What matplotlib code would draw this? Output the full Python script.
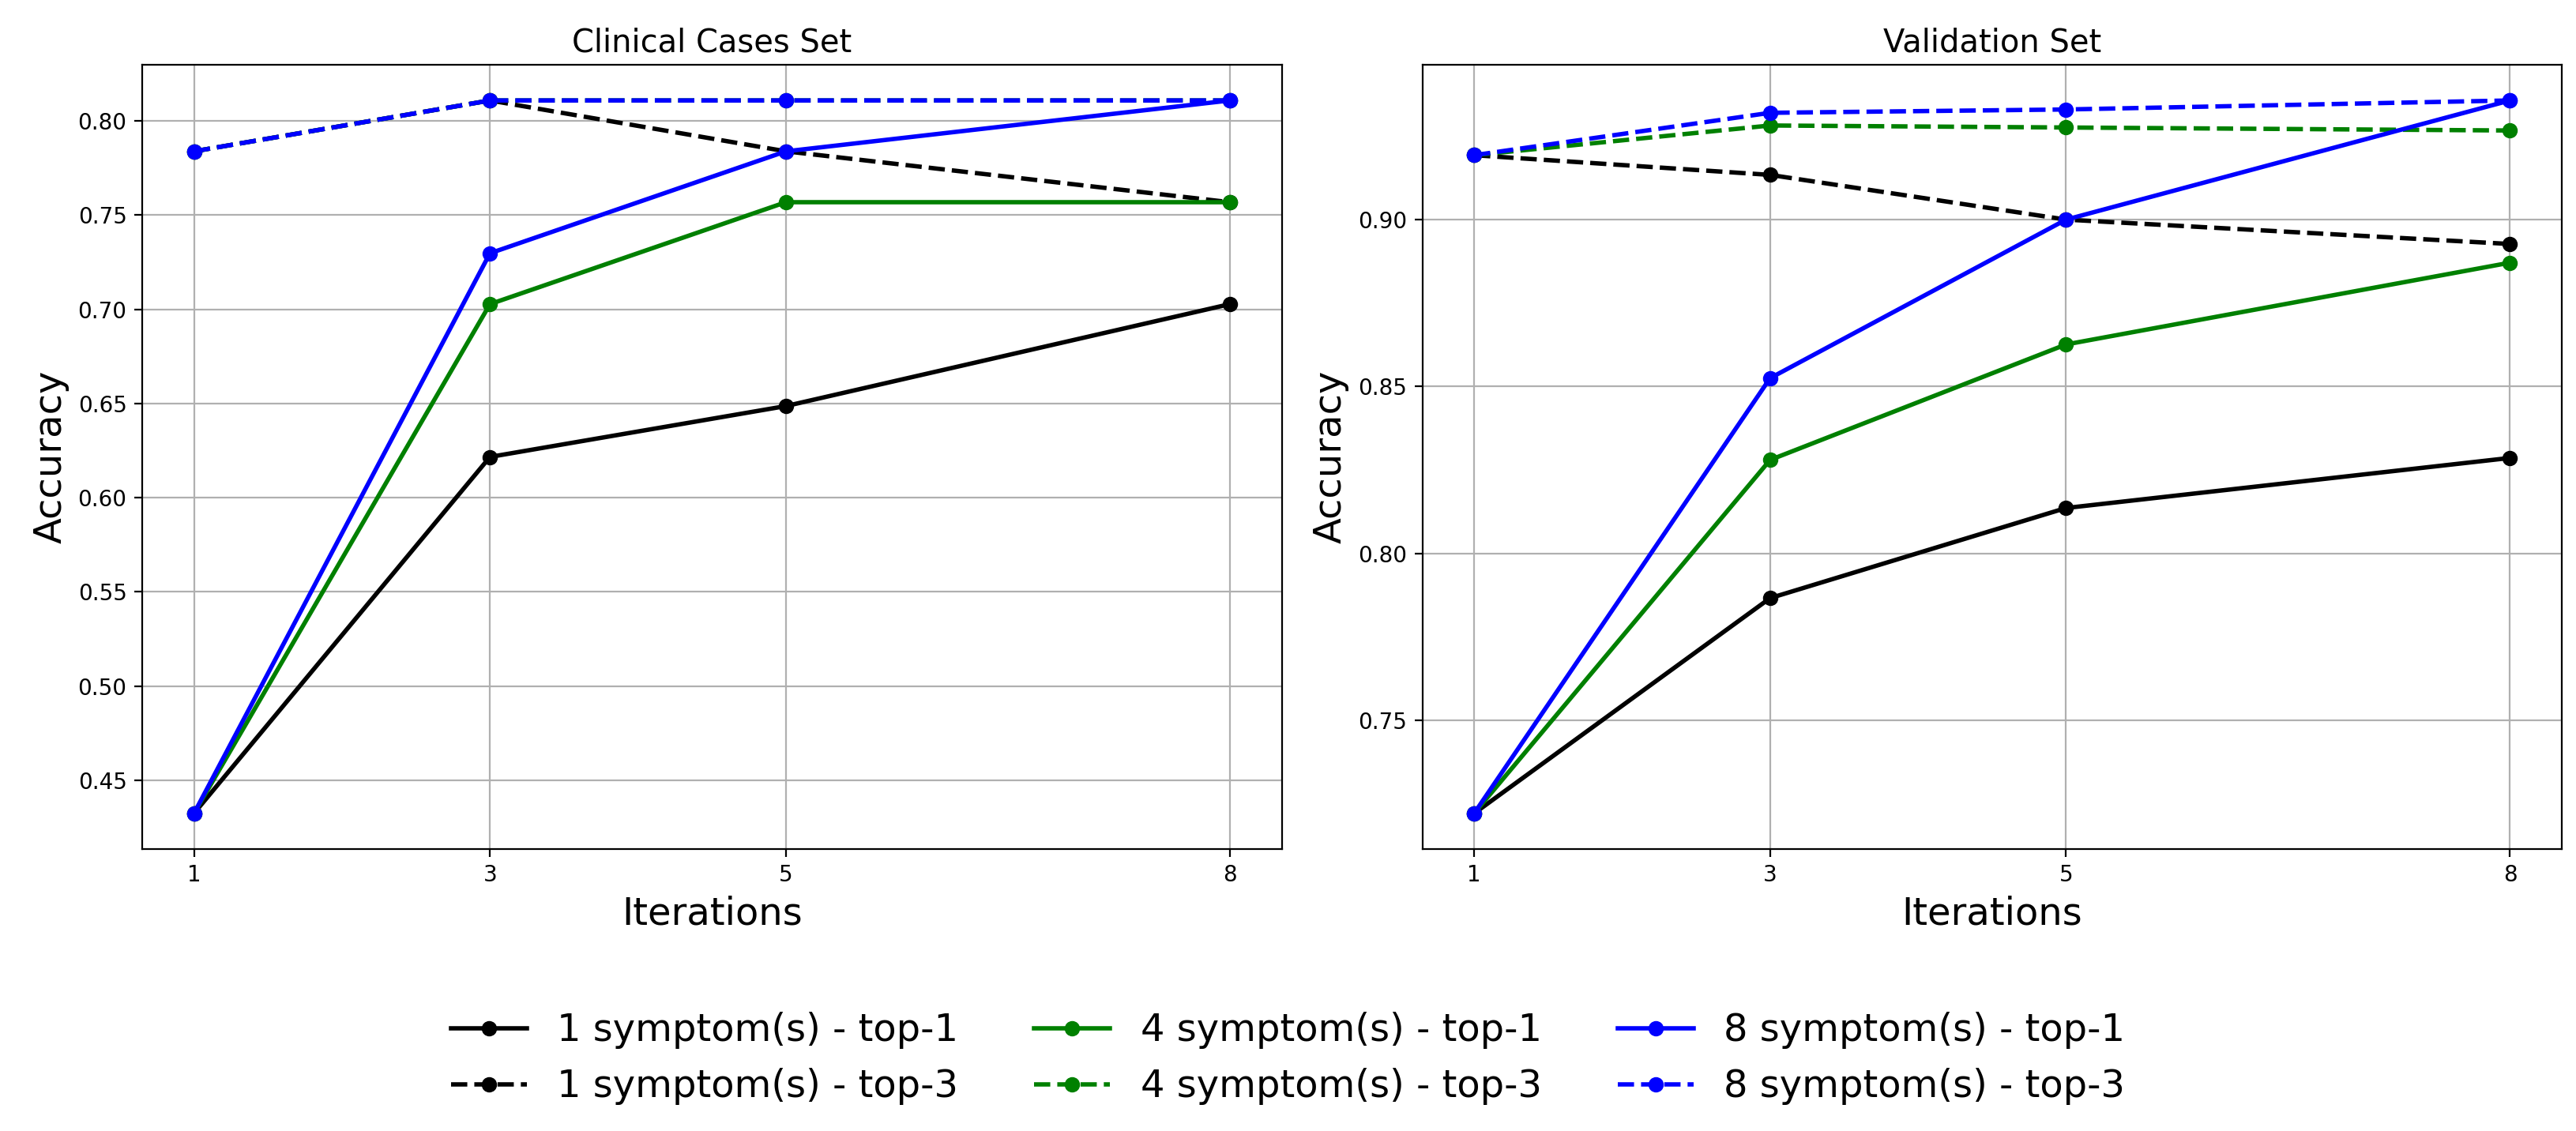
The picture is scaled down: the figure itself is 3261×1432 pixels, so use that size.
import matplotlib
matplotlib.use("Agg")
import matplotlib.pyplot as plt

iterations = [1, 3, 5, 8]
symptoms = [1, 4, 8]
colors = ["black", "green", "blue"]

# Clinical Cases Set
clinical_top1 = {
    1: [0.4324, 0.6216, 0.6486, 0.7027],
    4: [0.4324, 0.7027, 0.7568, 0.7568],
    8: [0.4324, 0.7297, 0.7838, 0.8108],
}
clinical_top3 = {
    1: [0.7838, 0.8108, 0.7838, 0.7568],
    4: [0.7838, 0.8108, 0.8108, 0.8108],
    8: [0.7838, 0.8108, 0.8108, 0.8108],
}

# Validation Set
validation_top1 = {
    1: [0.7221, 0.7866, 0.8136, 0.8286],
    4: [0.7221, 0.8280, 0.8626, 0.8871],
    8: [0.7221, 0.8525, 0.9000, 0.9357],
}
validation_top3 = {
    1: [0.9193, 0.9134, 0.9000, 0.8927],
    4: [0.9193, 0.9282, 0.9276, 0.9267],
    8: [0.9193, 0.9320, 0.9330, 0.9357],
}


def plot_set(ax, top1, top3, title):
    for s, c in zip(symptoms, colors):
        ax.plot(iterations, top1[s], marker='o', linestyle='-', color=c,
                linewidth=2, label=f"{s} symptom(s) - top-1")
        ax.plot(iterations, top3[s], marker='o', linestyle='--', color=c,
                linewidth=2, label=f"{s} symptom(s) - top-3")
    ax.set_title(title, fontsize='x-large')
    ax.set_xlabel("Iterations", fontsize='xx-large')
    ax.set_ylabel("Accuracy", fontsize='xx-large')
    ax.set_xticks(iterations)
    ax.grid(True)


fig, (ax1, ax2) = plt.subplots(1, 2, figsize=(16.305, 7.16), dpi=200)
fig.subplots_adjust(left=0.0552, right=0.9945, top=0.9427, bottom=0.2493, wspace=0.1234)

plot_set(ax1, clinical_top1, clinical_top3, "Clinical Cases Set")
plot_set(ax2, validation_top1, validation_top3, "Validation Set")

handles, labels = ax1.get_legend_handles_labels()
fig.legend(handles, labels, loc='center', bbox_to_anchor=(0.5, 0.064),
           ncol=3, fontsize='xx-large', frameon=False)

fig.savefig("out.png", dpi=200)
